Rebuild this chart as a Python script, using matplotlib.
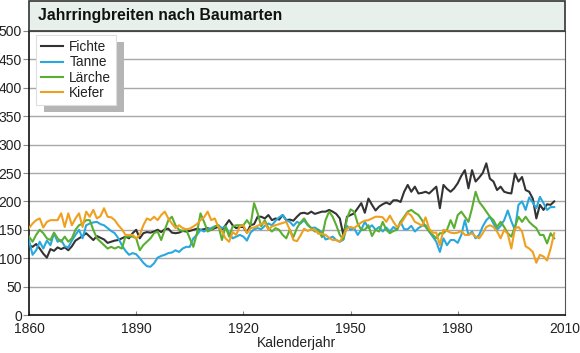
import matplotlib
matplotlib.use('Agg')
import matplotlib.pyplot as plt
from matplotlib.patches import Rectangle

plt.rcParams['font.family'] = ['Liberation Sans', 'DejaVu Sans']

years = list(range(1860, 2008))
fichte = [123, 120, 125, 117, 108, 101, 116, 113, 119, 116, 119, 114, 121, 131, 135, 139, 144, 138, 132, 139,
          136, 133, 127, 129, 131, 132, 135, 138, 135, 144, 150, 135, 144, 146, 145, 147, 150, 146, 151, 152, 145,
          144, 145, 148, 147, 148, 150, 152, 150, 151, 153, 150, 153, 155, 150, 158, 167, 158, 153, 155, 155,
          145, 158, 160, 173, 173, 170, 176, 167, 170, 168, 176, 167, 168,
          166, 173, 179, 180, 178, 182, 178, 180, 182, 182, 185, 182, 178, 170, 140, 173, 176, 179, 188, 197,
          180, 205, 194, 184, 191, 195, 198, 195, 202, 202, 199, 217, 229, 217, 226,
          214, 215, 217, 214, 220, 226, 188, 229, 222, 217, 223, 232, 245, 255, 223, 255, 235, 242, 250, 267,
          240, 235, 220, 226, 217, 215, 214, 249, 235, 243, 220, 217, 205, 170, 194, 185, 195, 194, 200]
tanne = [132, 106, 114, 129, 117, 131, 123, 144, 129, 132, 121, 119, 131, 141, 150, 135, 158, 161, 163, 164,
         160, 158, 153, 148, 144, 135, 123, 113, 106, 109, 107, 100, 92, 86, 85, 91, 101, 104, 106, 109, 110,
         114, 111, 117, 120, 120, 135, 141, 150, 147, 151, 153, 156, 158, 153, 156, 144, 135, 138, 141, 138,
         131, 145, 151, 153, 151, 157, 161, 158, 166, 172, 176, 167, 164,
         157, 164, 161, 167, 158, 153, 154, 150, 145, 133, 135, 138, 132, 129, 133, 157, 150, 153, 141, 150,
         164, 153, 158, 150, 155, 147, 154, 147, 155, 150, 164, 151, 151, 157, 147,
         153, 157, 158, 147, 138, 129, 111, 135, 123, 132, 132, 127, 141, 167, 141, 147, 135, 141, 156, 167,
         173, 161, 150, 157, 167, 184, 165, 150, 194, 200, 185, 207, 198, 188, 208, 197, 185, 190, 190]
laerche = [138, 129, 141, 150, 144, 135, 132, 145, 135, 129, 138, 129, 135, 150, 158, 161, 167, 167, 150, 135,
           129, 123, 117, 120, 117, 120, 117, 138, 138, 138, 135, 114, 123, 129, 135, 144, 147, 132, 150, 167, 173,
           158, 150, 148, 150, 135, 120, 144, 179, 164, 147, 150, 156, 158, 132, 156, 138, 156, 158, 158, 158,
           167, 158, 197, 179, 156, 167, 153, 147, 153, 150, 141, 135, 150,
           137, 153, 163, 170, 160, 153, 147, 150, 137, 167, 182, 173, 158, 141, 133, 170, 186, 182, 161, 150,
           150, 158, 139, 150, 147, 164, 150, 144, 148, 150, 164, 173, 182, 185, 180,
           176, 167, 155, 147, 141, 135, 144, 144, 150, 167, 153, 176, 182, 173, 164, 188, 217, 199, 191, 182,
           173, 167, 155, 164, 155, 144, 138, 155, 173, 164, 173, 164, 158, 153, 141, 141, 126, 144, 135]
kiefer = [153, 161, 167, 170, 154, 164, 167, 167, 167, 179, 155, 179, 158, 170, 179, 155, 182, 173, 185, 170,
          174, 188, 173, 172, 167, 158, 151, 141, 141, 141, 135, 141, 158, 170, 167, 173, 167, 176, 182, 170, 161,
          153, 158, 153, 151, 152, 156, 160, 167, 172, 182, 167, 170, 155, 148, 135, 129, 146, 141, 156, 158,
          144, 153, 154, 157, 160, 163, 150, 156, 158, 160, 162, 164, 150,
          132, 130, 140, 152, 148, 151, 150, 143, 143, 141, 136, 132, 132, 129, 140, 152, 155, 153, 158, 163,
          166, 167, 170, 173, 173, 172, 164, 175, 164, 155, 160, 170, 180, 175, 164,
          161, 157, 172, 152, 145, 145, 123, 150, 148, 145, 144, 145, 148, 141, 141, 144, 138, 135, 144, 155,
          158, 155, 147, 135, 150, 143, 117, 152, 155, 147, 121, 117, 111, 92, 106, 103, 96, 117, 144]

names = ['Fichte', 'Tanne', 'Lärche', 'Kiefer']
colors = ['#333333', '#2aa8de', '#5aaf32', '#f0a020']
x_ticks = [1860, 1890, 1920, 1950, 1980, 2010]
y_ticks = list(range(0, 501, 50))

fig = plt.figure(figsize=(5.8, 3.53), dpi=100)
ax = fig.add_axes([0.05, 0.1076, 0.924, 0.8046])

for data, name, c in zip([fichte, tanne, laerche, kiefer], names, colors):
    ax.plot(years, data, color=c, lw=1.5, label=name, zorder=3)

ax.set_xlim(1860, 2010)
ax.set_ylim(0, 500)
ax.set_xticks(x_ticks)
ax.set_yticks(y_ticks)
ax.yaxis.grid(True, color='#a8a8a8', lw=1)
ax.set_axisbelow(True)
ax.tick_params(axis='x', direction='in', length=3, color='#888888', labelsize=10, pad=5, labelcolor='#222222')
ax.tick_params(axis='y', direction='out', length=4, color='#888888', labelsize=10, pad=1, labelcolor='#222222')
ax.set_xlabel('Kalenderjahr', fontsize=10, labelpad=0, color='#222222')

for s in ['left', 'bottom']:
    ax.spines[s].set_color('#111111')
    ax.spines[s].set_linewidth(1.2)
ax.spines['right'].set_color('#555555')
ax.spines['top'].set_visible(False)

# title box
fig.patches.append(Rectangle((0.05, 0.9122), 0.924, 0.085, transform=fig.transFigure,
                             facecolor='#e7f0ea', edgecolor='#333333', lw=1.2))
fig.text(0.066, 0.955, 'Jahrringbreiten nach Baumarten', fontsize=11.3, fontweight='bold',
         va='center', ha='left', color='#111111')

leg = ax.legend(loc='upper left', bbox_to_anchor=(0.013, 0.985), fontsize=9.8, frameon=True,
                fancybox=False, edgecolor='#dddddd', framealpha=1, handlelength=1.6,
                handletextpad=0.5, labelspacing=0.1, borderpad=0.35, borderaxespad=0)
leg.get_frame().set_linewidth(0.8)
leg.set_zorder(10)
for t in leg.get_texts():
    t.set_color('#222222')

# shadow behind legend
fig.canvas.draw()
bb = leg.get_window_extent()
shadow = Rectangle((bb.x0 + 8, bb.y0 - 7), bb.width, bb.height, transform=None,
                   facecolor='#b5b5b5', edgecolor='none', zorder=9, clip_on=False)
ax.add_artist(shadow)

fig.savefig('out.png', dpi=100)
